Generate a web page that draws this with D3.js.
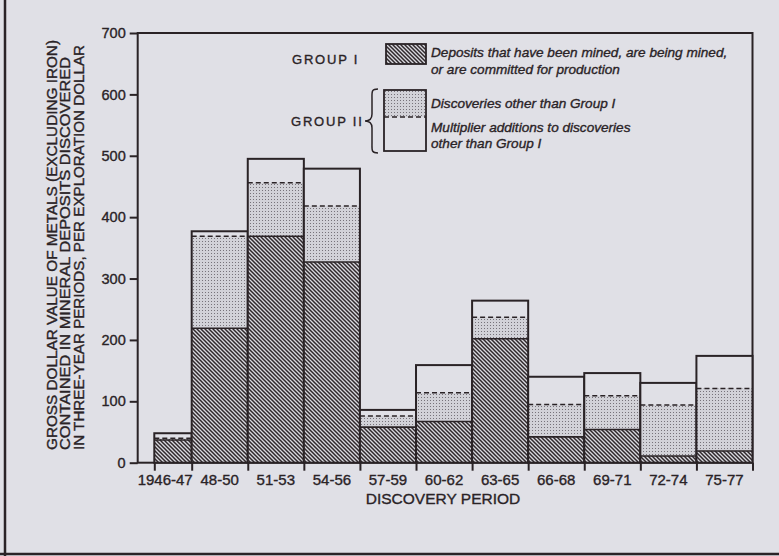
<!DOCTYPE html>
<html><head><meta charset="utf-8">
<script src="https://cdn.jsdelivr.net/npm/d3@7"></script>
<style>body{margin:0;background:#e0e0e6;} svg{display:block;} text{stroke:#2a2326;stroke-width:0.35px;}</style>
</head><body><svg id="c" width="779" height="556"></svg>
<script>
const periods = ["1946-47","48-50","51-53","54-56","57-59","60-62","63-65","66-68","69-71","72-74","75-77"];
const startYears = [1946,1948,1951,1954,1957,1960,1963,1966,1969,1972,1975];
const endYears = [1948,1951,1954,1957,1960,1963,1966,1969,1972,1975,1978];
const groupI = [37,219,369,327,58,67,202,42,54,11,19];
const discoveries = [3,150,87,91,18,47,35,53,55,83,102];
const multiplier = [8,8,39,61,10,45,27,45,37,36,53];
const yTicks = [0,100,200,300,400,500,600,700];
const yTitle = ["GROSS DOLLAR VALUE OF METALS (EXCLUDING IRON)","CONTAINED IN MINERAL DEPOSITS DISCOVERED","IN THREE-YEAR PERIODS, PER EXPLORATION DOLLAR"];
const xTitle = "DISCOVERY PERIOD";
const legendGroups = ["GROUP I","GROUP II"];
const legendG1 = ["Deposits that have been mined, are being mined,","or are committed for production"];
const legendG2a = ["Discoveries other than Group I"];
const legendG2b = ["Multiplier additions to discoveries","other than Group I"];

const BG = "#e0e0e6", INK = "#2a2326";
const svg = d3.select("#c");
svg.append("rect").attr("width",779).attr("height",556).attr("fill",BG);

const defs = svg.append("defs");
const ph = defs.append("pattern").attr("id","hatch").attr("patternUnits","userSpaceOnUse").attr("width",4).attr("height",4);
ph.append("rect").attr("width",4).attr("height",4).attr("fill","#d8d8de");
ph.append("path").attr("d","M0,0L4,4M-1,3L1,5M3,-1L5,1").attr("stroke","#2f282b").attr("stroke-width",1.5);
const pd = defs.append("pattern").attr("id","dots").attr("patternUnits","userSpaceOnUse").attr("width",3).attr("height",3);
pd.append("rect").attr("width",3).attr("height",3).attr("fill","#d2d2d8");
pd.append("rect").attr("x",1).attr("y",1).attr("width",1).attr("height",1).attr("fill","#77737a");

const font = "'Liberation Sans', Arial, Helvetica, sans-serif";
const x = d3.scaleLinear().domain([1946,1978]).range([154.3,752.5]);
const y = d3.scaleLinear().domain([0,700]).range([462.7,33]);
const axisX = 137.7;

// frame
svg.append("rect").attr("x",axisX).attr("y",y(700)).attr("width",x(1978)-axisX).attr("height",y(0)-y(700))
  .attr("fill","none").attr("stroke",INK).attr("stroke-width",2);

// bars
const data = periods.map((p,i)=>({p, s:startYears[i], e:endYears[i], g:groupI[i], d:discoveries[i], m:multiplier[i]}));
const bars = svg.append("g");
data.forEach(b=>{
  const x0 = x(b.s), w = x(b.e)-x(b.s);
  const t1 = b.g, t2 = b.g+b.d, t3 = b.g+b.d+b.m;
  bars.append("rect").attr("x",x0).attr("y",y(t1)).attr("width",w).attr("height",y(0)-y(t1)).attr("fill","url(#hatch)");
  bars.append("rect").attr("x",x0).attr("y",y(t2)).attr("width",w).attr("height",y(t1)-y(t2)).attr("fill","url(#dots)");
  bars.append("rect").attr("x",x0).attr("y",y(t3)).attr("width",w).attr("height",y(t2)-y(t3)).attr("fill",BG);
  bars.append("line").attr("x1",x0).attr("x2",x0+w).attr("y1",y(t1)).attr("y2",y(t1)).attr("stroke",INK).attr("stroke-width",1.6);
  bars.append("line").attr("x1",x0).attr("x2",x0+w).attr("y1",y(t2)).attr("y2",y(t2)).attr("stroke",INK).attr("stroke-width",1.5).attr("stroke-dasharray","5,3");
  bars.append("rect").attr("x",x0).attr("y",y(t3)).attr("width",w).attr("height",y(0)-y(t3)).attr("fill","none").attr("stroke",INK).attr("stroke-width",2);
});

// y axis
const ya = svg.append("g").attr("transform",`translate(${axisX},0)`)
  .call(d3.axisLeft(y).tickValues(yTicks).tickSize(8).tickPadding(4));
ya.select(".domain").remove();
ya.selectAll(".tick line").attr("stroke",INK).attr("stroke-width",2);
ya.selectAll(".tick text").attr("fill",INK).attr("font-size",14.5).attr("font-family",font);

// x axis
const xa = svg.append("g").attr("transform",`translate(0,${y(0)})`)
  .call(d3.axisBottom(x).tickValues([...startYears,1978]).tickSize(8).tickFormat(""));
xa.select(".domain").remove();
xa.selectAll(".tick line").attr("stroke",INK).attr("stroke-width",2);
data.forEach((b,i)=>{
  const cx = (x(b.s)+x(b.e))/2;
  svg.append("text").attr("x", i===0 ? x(b.e)+1 : cx).attr("y",485).attr("text-anchor", i===0?"end":"middle")
    .attr("font-family",font).attr("font-size",15).attr("fill",INK).text(b.p);
});
svg.append("text").attr("x",443).attr("y",503.5).attr("text-anchor","middle").attr("font-family",font)
  .attr("font-size",15.5).attr("fill",INK).text(xTitle);

// y title
const yLens = [410,393,405];
yTitle.forEach((t,i)=>{
  svg.append("text").attr("transform",`translate(${56.5+i*13.5},450) rotate(-90)`).attr("font-family",font)
    .attr("font-size",14).attr("fill",INK).attr("textLength",yLens[i]).attr("lengthAdjust","spacingAndGlyphs").text(t);
});

// legend
const lg = svg.append("g");
lg.append("text").attr("x",292).attr("y",64).attr("font-family",font).attr("font-size",13).attr("letter-spacing",1.8)
  .attr("fill",INK).text(legendGroups[0]);
lg.append("rect").attr("x",386).attr("y",44).attr("width",40).attr("height",20).attr("fill","url(#hatch)").attr("stroke",INK).attr("stroke-width",1.8);
legendG1.forEach((t,i)=>lg.append("text").attr("x",431).attr("y",57+i*17).attr("font-family",font).attr("font-style","italic")
  .attr("font-size",13.6).attr("fill",INK).text(t));
lg.append("text").attr("x",291).attr("y",126).attr("font-family",font).attr("font-size",13).attr("letter-spacing",1.8)
  .attr("fill",INK).text(legendGroups[1]);
lg.append("path").attr("d","M378,89 C371,89 372,92 372,100 L372,114 C372,119 370,121 365,121 C370,121 372,123 372,128 L372,143 C372,150 371,153 378,153")
  .attr("fill","none").attr("stroke",INK).attr("stroke-width",1.5);
lg.append("rect").attr("x",384).attr("y",90).attr("width",42).attr("height",27).attr("fill","url(#dots)");
lg.append("line").attr("x1",384).attr("x2",426).attr("y1",117).attr("y2",117).attr("stroke",INK).attr("stroke-width",1.5).attr("stroke-dasharray","5,3");
lg.append("rect").attr("x",384).attr("y",90).attr("width",42).attr("height",61).attr("fill","none").attr("stroke",INK).attr("stroke-width",1.8);
legendG2a.forEach((t,i)=>lg.append("text").attr("x",431).attr("y",108).attr("font-family",font).attr("font-style","italic")
  .attr("font-size",13.6).attr("fill",INK).text(t));
legendG2b.forEach((t,i)=>lg.append("text").attr("x",431).attr("y",132+i*16).attr("font-family",font).attr("font-style","italic")
  .attr("font-size",13.6).attr("fill",INK).text(t));

// page border lines
svg.append("line").attr("x1",5).attr("x2",5).attr("y1",0).attr("y2",556).attr("stroke",INK).attr("stroke-width",2.5);
svg.append("line").attr("x1",0).attr("x2",779).attr("y1",554).attr("y2",554).attr("stroke",INK).attr("stroke-width",2.5);
</script></body></html>
